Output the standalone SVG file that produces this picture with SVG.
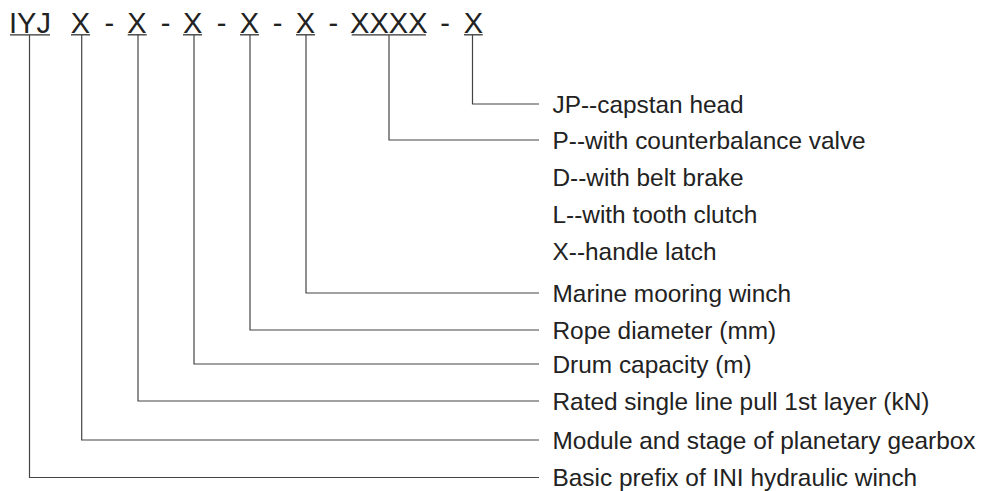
<svg xmlns="http://www.w3.org/2000/svg" width="992" height="491" viewBox="0 0 992 491">
<style>
.code{font-family:"Liberation Sans",Arial,sans-serif;font-size:29px;fill:#222;text-anchor:middle}
.lbl{font-family:"Liberation Sans",Arial,sans-serif;font-size:24.4px;fill:#222}
.ul{stroke:#333;stroke-width:1.3}
.conn{fill:none;stroke:#444;stroke-width:1.2}
</style>
<rect width="992" height="491" fill="#fff"/>
<g id="code">
<text class="code" x="30" y="32.5">IYJ</text>
<text class="code" x="80.5" y="32.5">X</text>
<text class="code" x="109.3" y="32.5">-</text>
<text class="code" x="137" y="32.5">X</text>
<text class="code" x="165.7" y="32.5">-</text>
<text class="code" x="192.7" y="32.5">X</text>
<text class="code" x="221.7" y="32.5">-</text>
<text class="code" x="249.5" y="32.5">X</text>
<text class="code" x="277.7" y="32.5">-</text>
<text class="code" x="305.5" y="32.5">X</text>
<text class="code" x="333.3" y="32.5">-</text>
<text class="code" x="388.8" y="32.5">XXXX</text>
<text class="code" x="445" y="32.5">-</text>
<text class="code" x="473.3" y="32.5">X</text>
<line class="ul" x1="10" y1="34.8" x2="50" y2="34.8"/>
<line class="ul" x1="71" y1="34.8" x2="90" y2="34.8"/>
<line class="ul" x1="127.7" y1="34.8" x2="146.7" y2="34.8"/>
<line class="ul" x1="183" y1="34.8" x2="202" y2="34.8"/>
<line class="ul" x1="240" y1="34.8" x2="259" y2="34.8"/>
<line class="ul" x1="296" y1="34.8" x2="315" y2="34.8"/>
<line class="ul" x1="351.7" y1="34.8" x2="426" y2="34.8"/>
<line class="ul" x1="464" y1="34.8" x2="482.7" y2="34.8"/>
</g>
<g id="connectors">
<polyline class="conn" points="472.5,35 472.5,104 539,104"/>
<polyline class="conn" points="389,35 389,140 539,140"/>
<polyline class="conn" points="306,35 306,293 539,293"/>
<polyline class="conn" points="250,35 250,330 539,330"/>
<polyline class="conn" points="194,35 194,364 539,364"/>
<polyline class="conn" points="138,35 138,401 539,401"/>
<polyline class="conn" points="81.7,35 81.7,440 539,440"/>
<polyline class="conn" points="29.5,35 29.5,477.5 539,477.5"/>
</g>
<g id="labels">
<text class="lbl" x="552.5" y="112.5">JP--capstan head</text>
<text class="lbl" x="552.5" y="148.5">P--with counterbalance valve</text>
<text class="lbl" x="552.5" y="186">D--with belt brake</text>
<text class="lbl" x="552.5" y="223">L--with tooth clutch</text>
<text class="lbl" x="552.5" y="260">X--handle latch</text>
<text class="lbl" x="552.5" y="301.5">Marine mooring winch</text>
<text class="lbl" x="552.5" y="338.5">Rope diameter (mm)</text>
<text class="lbl" x="552.5" y="372.5">Drum capacity (m)</text>
<text class="lbl" x="552.5" y="409.5">Rated single line pull 1st layer (kN)</text>
<text class="lbl" x="552.5" y="448.5">Module and stage of planetary gearbox</text>
<text class="lbl" x="552.5" y="486">Basic prefix of INI hydraulic winch</text>
</g>
</svg>
